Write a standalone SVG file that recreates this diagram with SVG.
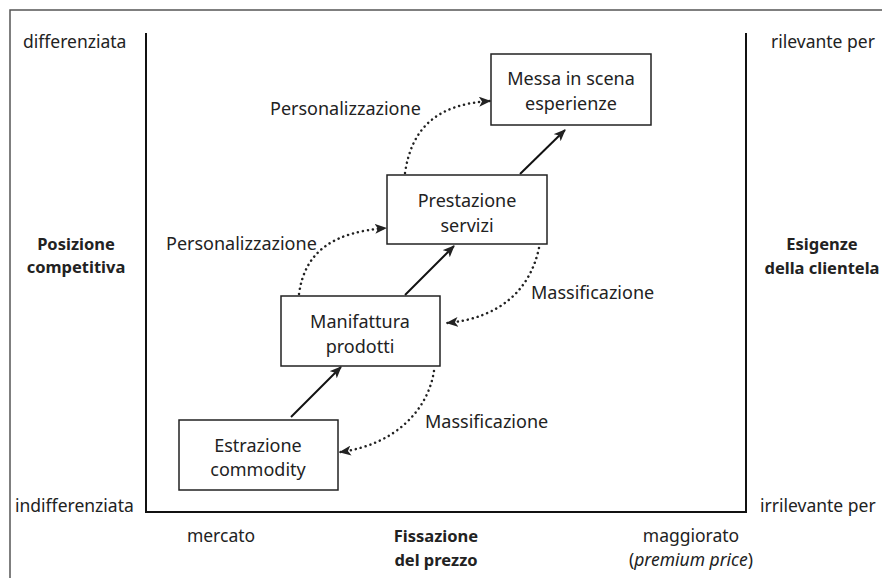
<svg xmlns="http://www.w3.org/2000/svg" width="882" height="578" viewBox="0 0 882 578">
<defs>
<style>
text{font-family:"Noto Sans","Open Sans","DejaVu Sans",sans-serif;font-size:17.5px;fill:#222}
.b{font-weight:bold;font-size:16.5px}
.m{text-anchor:middle}
.t{font-size:18px}
.box{fill:#fff;stroke:#222;stroke-width:1.5}
.ax{stroke:#111;stroke-width:2;fill:none}
.sol{stroke:#111;stroke-width:2;fill:none;marker-end:url(#ah)}
.dot{stroke:#222;stroke-width:2.5;fill:none;stroke-dasharray:0.1 5;stroke-linecap:round;marker-end:url(#ah)}
</style>
<marker id="ah" viewBox="0 0 12 10" refX="11" refY="5" markerWidth="12" markerHeight="10" markerUnits="userSpaceOnUse" orient="auto">
<path d="M0,0 L12,5 L0,10 L3,5 Z" fill="#222"/>
</marker>
</defs>
<rect width="882" height="578" fill="#fff"/>
<path d="M10,578 V10 H882" stroke="#555" stroke-width="1.5" fill="none"/>
<g id="axes">
<path class="ax" d="M146,33 V512 H746 V33"/>
</g>
<g id="labels">
<text x="23" y="48">differenziata</text>
<text x="15" y="512">indifferenziata</text>
<text x="771" y="48">rilevante per</text>
<text x="760" y="512">irrilevante per</text>
<text class="b m" x="76" y="250">Posizione</text>
<text class="b m" x="76" y="273">competitiva</text>
<text class="b m" x="822" y="250">Esigenze</text>
<text class="b m" x="822" y="274">della clientela</text>
<text class="m" x="221" y="542">mercato</text>
<text class="b m" x="436" y="542">Fissazione</text>
<text class="b m" x="436" y="566">del prezzo</text>
<text class="m" x="691" y="542">maggiorato</text>
<text class="m" x="691" y="566">(<tspan font-style="italic">premium price</tspan>)</text>
</g>
<g id="connectors">
<path class="sol" d="M291,417 L341,367"/>
<path class="sol" d="M405,295 L454,246"/>
<path class="sol" d="M520,174 L565,130"/>
<path class="dot" d="M299,294 C305,250 335,232 386,228"/>
<path class="dot" d="M405,173 C412,125 440,104 490,101"/>
<path class="dot" d="M539,248 C530,290 500,318 447,323"/>
<path class="dot" d="M434,371 C428,410 395,445 340,452"/>
<text class="t" x="166" y="250">Personalizzazione</text>
<text class="t" x="270" y="115">Personalizzazione</text>
<text class="t" x="531" y="299">Massificazione</text>
<text class="t" x="425" y="428">Massificazione</text>
</g>
<g id="n1">
<rect class="box" x="179" y="420" width="159" height="70"/>
<text class="m t" x="258" y="452">Estrazione</text>
<text class="m t" x="258" y="476">commodity</text>
</g>
<g id="n2">
<rect class="box" x="281" y="296" width="159" height="70"/>
<text class="m t" x="360" y="328">Manifattura</text>
<text class="m t" x="360" y="353">prodotti</text>
</g>
<g id="n3">
<rect class="box" x="387" y="175" width="160" height="69"/>
<text class="m t" x="467" y="207">Prestazione</text>
<text class="m t" x="467" y="232">servizi</text>
</g>
<g id="n4">
<rect class="box" x="491" y="54" width="160" height="71"/>
<text class="m t" x="571" y="85">Messa in scena</text>
<text class="m t" x="571" y="110">esperienze</text>
</g>
</svg>
